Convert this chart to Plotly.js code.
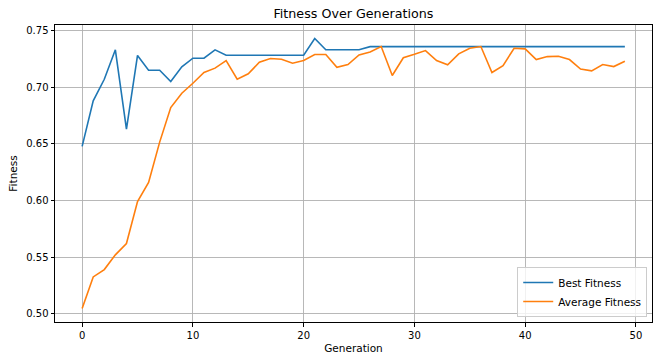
<!DOCTYPE html>
<html>
<head>
<meta charset="utf-8">
<script src="https://cdn.plot.ly/plotly-3.0.1.min.js"></script>
<style>html,body{margin:0;padding:0;background:#fff;}#chart{width:660px;height:363px;}</style>
</head>
<body>
<div id="chart"></div>
<script>
const generations = Array.from({length: 50}, (_, i) => i);
const bestFitness = [
  0.6477, 0.688, 0.707, 0.733, 0.663, 0.728, 0.715, 0.715, 0.705, 0.718,
  0.7256, 0.7256, 0.733, 0.7282, 0.7282, 0.7282, 0.7282, 0.7282, 0.7282, 0.7282,
  0.7282, 0.743, 0.733, 0.733, 0.733, 0.733, 0.7358, 0.7358, 0.7358, 0.7358,
  0.7358, 0.7358, 0.7358, 0.7358, 0.7358, 0.7358, 0.7358, 0.7358, 0.7358, 0.7358,
  0.7358, 0.7358, 0.7358, 0.7358, 0.7358, 0.7358, 0.7358, 0.7358, 0.7358, 0.7358
];
const avgFitness = [
  0.5046, 0.5325, 0.539, 0.552, 0.562, 0.599, 0.616, 0.6515, 0.682, 0.6947,
  0.7035, 0.713, 0.7168, 0.7235, 0.707, 0.7118, 0.722, 0.7253, 0.7247, 0.7212,
  0.7235, 0.7288, 0.7288, 0.7176, 0.72, 0.7285, 0.731, 0.7359, 0.7103, 0.726,
  0.729, 0.7323, 0.7235, 0.7197, 0.7294, 0.7344, 0.7359, 0.713, 0.719, 0.7344,
  0.7338, 0.7244, 0.727, 0.7273, 0.7244, 0.716, 0.7144, 0.72, 0.7182, 0.7229
];
const seriesNames = ["Best Fitness", "Average Fitness"];
const xTicks = [0, 10, 20, 30, 40, 50];
const yTicks = [0.50, 0.55, 0.60, 0.65, 0.70, 0.75];

const font = "DejaVu Sans, sans-serif";
const traces = [
  {x: generations, y: bestFitness, name: seriesNames[0], type: "scatter", mode: "lines",
   line: {color: "#1f77b4", width: 1.6}},
  {x: generations, y: avgFitness, name: seriesNames[1], type: "scatter", mode: "lines",
   line: {color: "#ff7f0e", width: 1.6}}
];
const axisCommon = {
  showline: true, mirror: true, linecolor: "#000", linewidth: 1,
  ticks: "outside", ticklen: 3.5, tickcolor: "#000", tickwidth: 1,
  showgrid: true, gridcolor: "#b0b0b0", gridwidth: 0.9, zeroline: false,
  tickfont: {family: font, size: 10, color: "#000"}
};
const layout = {
  width: 660, height: 363,
  margin: {l: 54.5, r: 7.7, t: 25, b: 41.3},
  paper_bgcolor: "#fff", plot_bgcolor: "#fff",
  font: {family: font, color: "#000"},
  title: {text: "Fitness Over Generations", font: {family: font, size: 12.7, color: "#000"},
          x: 353.4/660, xanchor: "center", y: 1 - 13.5/363, yanchor: "middle"},
  xaxis: Object.assign({}, axisCommon, {
    range: [-2.45, 51.45], tickvals: xTicks, ticktext: xTicks.map(String),
    title: {text: "Generation", font: {family: font, size: 10.5, color: "#000"}, standoff: 5}
  }),
  yaxis: Object.assign({}, axisCommon, {
    range: [0.4927, 0.7549], tickvals: yTicks, ticktext: yTicks.map(v => v.toFixed(2)),
    title: {text: "Fitness", font: {family: font, size: 10.5, color: "#000"}, standoff: 6}
  }),
  legend: {
    x: 0.992, y: 0.017, xanchor: "right", yanchor: "bottom",
    bgcolor: "rgba(255,255,255,0.8)", bordercolor: "#cccccc", borderwidth: 1,
    font: {family: font, size: 10.5, color: "#000"},
    itemwidth: 30, tracegroupgap: 0
  },
  showlegend: true
};
Plotly.newPlot("chart", traces, layout, {staticPlot: true, displayModeBar: false});
</script>
</body>
</html>
